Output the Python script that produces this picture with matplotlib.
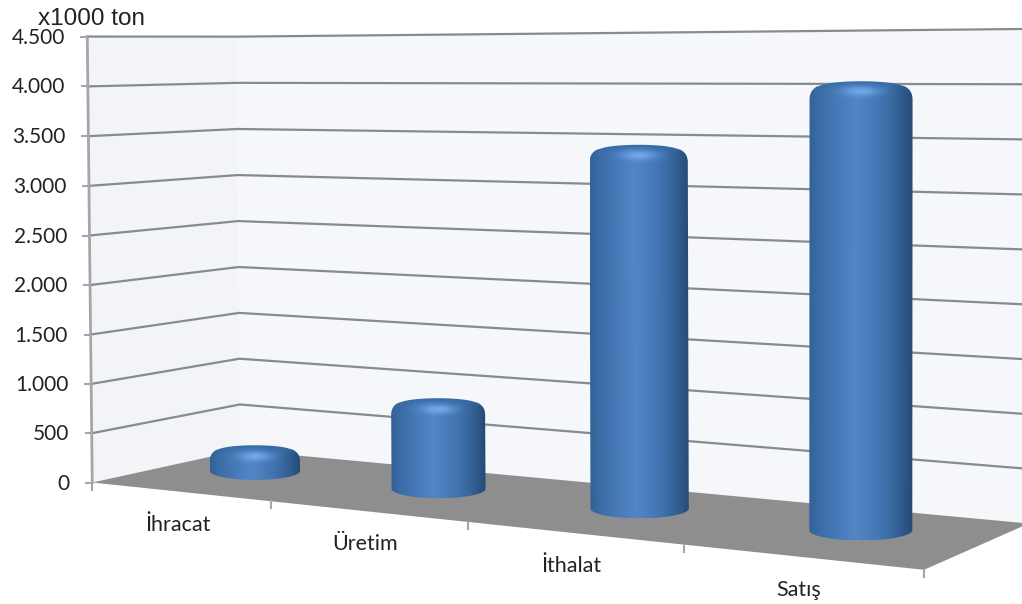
import numpy as np
import matplotlib
matplotlib.use('agg')
import matplotlib.pyplot as plt
from matplotlib.patches import Polygon

categories = ["İhracat", "Üretim", "İthalat", "Satış"]
values = [215, 850, 3390, 3990]
value_ticks = [0, 500, 1000, 1500, 2000, 2500, 3000, 3500, 4000, 4500]
tick_labels = ["0", "500", "1.000", "1.500", "2.000", "2.500", "3.000", "3.500", "4.000", "4.500"]
unit_label = "x1000 ton"

VMAX = value_ticks[-1]
N = len(categories)

# chart box corners (slot, value, depth) -> where they land in the image, fixes the perspective
calib = [
    ((0, 0, 0), (94, 481)), ((0, VMAX, 0), (86, 35)),
    ((0, 0, 1), (238, 450)), ((0, VMAX, 1), (238, 38)),
    ((1, 0, 0), (272, 503)), ((2, 0, 0), (468, 523)),
    ((3, 0, 0), (684, 545)), ((4, 0, 0), (923, 570)),
    ((4, 0, 1), (1030, 522)), ((4, VMAX, 1), (1030, 29)),
]


def fit_projection(pairs):
    rows, rhs = [], []
    for (u, v, w), (x, y) in pairs:
        v = v / VMAX
        rows.append([u, v, w, 1, 0, 0, 0, 0, -x * u, -x * v, -x * w])
        rhs.append(x)
        rows.append([0, 0, 0, 0, u, v, w, 1, -y * u, -y * v, -y * w])
        rhs.append(y)
    return np.linalg.lstsq(np.array(rows, float), np.array(rhs, float), rcond=None)[0]


M = fit_projection(calib)


def proj(u, v, w):
    u, v, w = np.broadcast_arrays(np.asarray(u, float), np.asarray(v, float) / VMAX, np.asarray(w, float))
    d = M[8] * u + M[9] * v + M[10] * w + 1
    return (M[0] * u + M[1] * v + M[2] * w + M[3]) / d, (M[4] * u + M[5] * v + M[6] * w + M[7]) / d


def hull(pts):
    pts = sorted(set(map(tuple, pts)))
    def half(seq):
        out = []
        for p in seq:
            while len(out) > 1 and ((out[-1][0] - out[-2][0]) * (p[1] - out[-2][1])
                                    - (out[-1][1] - out[-2][1]) * (p[0] - out[-2][0])) <= 0:
                out.pop()
            out.append(p)
        return out[:-1]
    return np.array(half(pts) + half(pts[::-1]))


BAR_DEPTH = 0.57
BAR_SHIFT = 0.443
BAR_STEP = 1.009
BAR_FLAT = 0.2  # ellipse height / width


def disc(cu, v, r, flat=1.0):
    # level ellipse, the chart draws its cylinders without floor skew
    t = np.linspace(0, 2 * np.pi, 90)
    cx, cy = proj(cu, v, BAR_DEPTH)
    hw = 42.3 + 0.0107 * cx
    return np.column_stack([cx + r * hw * np.cos(t), cy + hw * BAR_FLAT * flat * np.sin(t)])


stops_n = [-1.0, -0.75, -0.1, 0.45, 0.8, 1.0]
stops_rgb = np.array([[0x33, 0x62, 0x98], [0x3c, 0x6f, 0xaa], [0x53, 0x86, 0xc6],
                      [0x3f, 0x72, 0xad], [0x2f, 0x5a, 0x8d], [0x25, 0x48, 0x73]]) / 255


def draw_bar(ax, cu, val):
    bevel = min(110, val * 0.6)
    # rounded shoulder: discs shrink along a quarter circle towards the top
    rings = [disc(cu, 0, 1)]
    for s in np.linspace(0, 1, 9):
        rings.append(disc(cu, val - bevel * (1 - s), 0.8 + 0.2 * np.sqrt(1 - s ** 2), 1 - 0.45 * s))
    shape = hull(np.vstack(rings))
    patch = Polygon(shape, closed=True, fc='none', ec='none')
    ax.add_patch(patch)
    x0, x1 = shape[:, 0].min(), shape[:, 0].max()
    y0, y1 = shape[:, 1].min(), shape[:, 1].max()
    xs, ys = np.meshgrid(np.arange(x0, x1, 0.5), np.arange(y0, y1, 0.5))
    # centre and half width of the body, they drift a bit with perspective
    bx0, _ = proj(cu, val, BAR_DEPTH)
    bx1, _ = proj(cu, 0, BAR_DEPTH)
    centre = bx1 + (bx0 - bx1) * (y1 - ys) / (y1 - y0)
    n = np.clip((xs - centre) / ((x1 - x0) / 2), -1, 1)
    img = np.dstack([np.interp(n, stops_n, stops_rgb[:, i]) for i in range(3)])
    # cap: flat darker top face, then a highlight on the shoulder
    top = (ys - y0)
    flat = np.clip(1 - top / 9, 0, 1)[..., None]
    img = img * (1 - flat) + np.array([0x36, 0x69, 0xa2]) / 255 * flat
    glow = np.exp(-(n / 0.33) ** 2 - ((top - 11) / 4.5) ** 2)[..., None]
    img = img * (1 - glow) + np.array([0x70, 0xa9, 0xec]) / 255 * glow
    im = ax.imshow(img, extent=(x0, x1, y1, y0), aspect='auto', interpolation='bilinear', zorder=3)
    im.set_clip_path(patch)


plt.rcParams['font.family'] = ['Lato', 'DejaVu Sans']
fig = plt.figure(figsize=(10.22, 6.04), dpi=100)
ax = fig.add_axes([0, 0, 1, 1])

# walls and floor
back = np.column_stack(proj([0, 4, 4, 0], [0, 0, VMAX, VMAX], [1, 1, 1, 1]))
side = np.column_stack(proj([0, 0, 0, 0], [0, 0, VMAX, VMAX], [0, 1, 1, 0]))
floor = np.column_stack(proj([0, 4, 4, 0], [0, 0, 0, 0], [0, 0, 1, 1]))
ax.add_patch(Polygon(side, fc='#f3f4f8', ec='none', zorder=1))
ax.add_patch(Polygon(back, fc='#f5f7fa', ec='none', zorder=1))
ax.add_patch(Polygon(floor, fc='#8e8e8e', ec='none', zorder=2))

# gridlines run along the side wall then the back wall
for v in value_ticks[1:]:
    x, y = proj([0, 0, 4], v, [0, 1, 1])
    ax.plot(x, y, color='#858b92', lw=1.6, zorder=1.5)

# value axis
x, y = proj([0, 0], [0, VMAX], [0, 0])
ax.plot(x, y, color='#a3a6aa', lw=2, zorder=2.5)
for v, lab in zip(value_ticks, tick_labels):
    x, y = proj(0, v, 0)
    ax.plot([x - 6, x], [y, y], color='#a3a6aa', lw=1.5, zorder=2.5)
    ax.text(x - 22.5, y + 1, lab, ha='right', va='center', fontsize=15, color='#222222')

# category axis
for i in range(N + 1):
    x, y = proj(i, 0, 0)
    ax.plot([x, x], [y, y + 7], color='#a3a6aa', lw=1.5, zorder=2.5)
for i, name in enumerate(categories):
    x, y = proj(i + 0.5, 0, 0)
    ax.text(x - 2, y + 33, name, ha='center', va='center', fontsize=15.5, color='#222222')

for i, val in enumerate(values):
    draw_bar(ax, BAR_SHIFT + i * BAR_STEP, val)

ax.text(38, 25, unit_label, ha='left', va='baseline', fontsize=17.5, color='#222222', family='Liberation Sans')

ax.set_xlim(0, 1022)
ax.set_ylim(604, 0)
ax.axis('off')
fig.savefig('out.png', dpi=100)
